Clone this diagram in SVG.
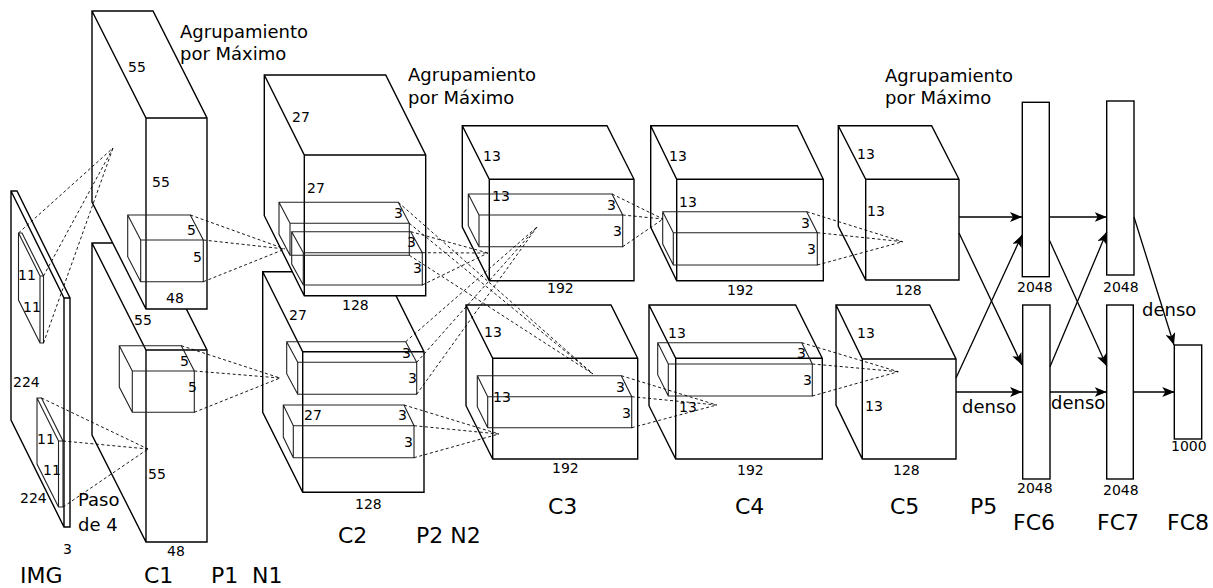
<svg xmlns="http://www.w3.org/2000/svg" width="1213" height="588" viewBox="0 0 1213 588">
<defs>
<style>
.bx{fill:#fff;stroke:#000;stroke-width:1.4;stroke-linejoin:miter}
.ib{fill:none;stroke:#222;stroke-width:1.1}
.ibw{fill:#fff;stroke:#222;stroke-width:1.1}
.dl{fill:none;stroke:#000;stroke-width:0.9;stroke-dasharray:3,2.5}
.ar{fill:none;stroke:#000;stroke-width:1.3;marker-end:url(#ah)}
.fc{fill:#fff;stroke:#000;stroke-width:1.4}
text{font-family:"DejaVu Sans","Liberation Sans",sans-serif;fill:#000}
.n{font-size:14px}
.m{font-size:18px}
.b{font-size:22px}
</style>
<marker id="ah" markerUnits="userSpaceOnUse" markerWidth="12" markerHeight="10" viewBox="0 0 12 10" refX="12" refY="5" orient="auto">
<path d="M0,0 L12,5 L0,10 L3,5 Z" fill="#000"/>
</marker>
</defs>
<rect width="1213" height="588" fill="#fff"/>

<g id="img">
<path class="bx" d="M11,191 L17,191 L70,298 L70,527 L64,527 L11,420 Z M11,191 L64,298 L70,298 M64,298 L64,527"/>
<path class="ibw" d="M18.5,233 L22,233 L43.5,276 L43.5,343 L40,343 L18.5,300 Z M18.5,233 L40,276 L43.5,276 M40,276 L40,343"/>
<path class="ibw" d="M37,398 L41.5,398 L63,441 L63,507 L58.5,507 L37,464 Z M37,398 L58.5,441 L63,441 M58.5,441 L58.5,507"/>
<text class="n" x="18" y="280">11</text>
<text class="n" x="23" y="312">11</text>
<text class="n" x="37" y="444">11</text>
<text class="n" x="43" y="475">11</text>
<text class="n" x="13" y="387">224</text>
<text class="n" x="20" y="503">224</text>
<text class="n" x="63" y="554">3</text>
<text class="m" x="78" y="506">Paso</text>
<text class="m" x="78" y="531">de 4</text>
<text class="b" x="20" y="583">IMG</text>
</g>

<g id="c1">
<path class="bx" d="M92,243 L153,243 L207,350 L207,542 L146,542 L92,435 Z M92,243 L146,350 L207,350 M146,350 L146,542"/>
<path class="bx" d="M92,11 L153,11 L207,118 L207,309 L146,309 L92,202 Z M92,11 L146,118 L207,118 M146,118 L146,309"/>
<path class="ib" d="M127.7,215 L190.3,215 L203.3,240 L203.3,281.7 L140.7,281.7 L127.7,256.7 Z M127.7,215 L140.7,240 L203.3,240 M140.7,240 L140.7,281.7"/>
<path class="ib" d="M119.3,345.7 L181.3,345.7 L194.3,371 L194.3,412.3 L132.3,412.3 L119.3,387 Z M119.3,345.7 L132.3,371 L194.3,371 M132.3,371 L132.3,412.3"/>
<text class="n" x="128" y="72">55</text>
<text class="n" x="152" y="187">55</text>
<text class="n" x="187" y="235">5</text>
<text class="n" x="193" y="262">5</text>
<text class="n" x="166" y="303">48</text>
<text class="n" x="134" y="325">55</text>
<text class="n" x="180" y="366">5</text>
<text class="n" x="188" y="392">5</text>
<text class="n" x="148" y="479">55</text>
<text class="n" x="167" y="556">48</text>
<text class="m" x="180" y="38">Agrupamiento</text>
<text class="m" x="180" y="60">por Máximo</text>
<text class="b" x="144" y="583">C1</text>
<text class="b" x="211" y="583">P1</text>
<text class="b" x="252" y="583">N1</text>
</g>

<g id="c2">
<path class="bx" d="M262.7,271.7 L384,271.7 L424,351.7 L424,492.3 L302.7,492.3 L262.7,412.3 Z M262.7,271.7 L302.7,351.7 L424,351.7 M302.7,351.7 L302.7,492.3"/>
<path class="ib" d="M286.7,341.7 L405.7,341.7 L416.7,362.3 L416.7,394.3 L297.7,394.3 L286.7,373.7 Z M286.7,341.7 L297.7,362.3 L416.7,362.3 M297.7,362.3 L297.7,394.3"/>
<path class="ib" d="M283.3,405 L404,405 L414,425.7 L414,457.7 L293.3,457.7 L283.3,437 Z M283.3,405 L293.3,425.7 L414,425.7 M293.3,425.7 L293.3,457.7"/>
<path class="bx" d="M264.3,75 L385.7,75 L425.7,155 L425.7,295.7 L304.3,295.7 L264.3,215.7 Z M264.3,75 L304.3,155 L425.7,155 M304.3,155 L304.3,295.7"/>
<path class="ib" d="M279,202.3 L398.3,202.3 L409.3,223.3 L409.3,255.3 L290,255.3 L279,234.3 Z M279,202.3 L290,223.3 L409.3,223.3 M290,223.3 L290,255.3"/>
<path class="ib" d="M291.7,231.7 L410.7,231.7 L422.3,252.7 L422.3,285 L303.3,285 L291.7,264 Z M291.7,231.7 L303.3,252.7 L422.3,252.7 M303.3,252.7 L303.3,285"/>
<text class="n" x="292" y="122">27</text>
<text class="n" x="307" y="193">27</text>
<text class="n" x="394" y="218">3</text>
<text class="n" x="407" y="247">3</text>
<text class="n" x="413" y="273">3</text>
<text class="n" x="342" y="310">128</text>
<text class="n" x="289" y="320">27</text>
<text class="n" x="402" y="358">3</text>
<text class="n" x="408" y="383">3</text>
<text class="n" x="304" y="420">27</text>
<text class="n" x="398" y="420">3</text>
<text class="n" x="404" y="447">3</text>
<text class="n" x="355" y="509">128</text>
<text class="m" x="408" y="81">Agrupamiento</text>
<text class="m" x="408" y="104">por Máximo</text>
<text class="b" x="338" y="543">C2</text>
<text class="b" x="416" y="543">P2 N2</text>
</g>

<g id="c3">
<path class="bx" d="M462.3,125.7 L607,125.7 L634,179.3 L634,280.7 L489.3,280.7 L462.3,227.1 Z M462.3,125.7 L489.3,179.3 L634,179.3 M489.3,179.3 L489.3,280.7"/>
<path class="ib" d="M468.3,194 L612,194 L622.7,215 L622.7,246.7 L479,246.7 L468.3,225.7 Z M468.3,194 L479,215 L622.7,215 M479,215 L479,246.7"/>
<path class="bx" d="M466,305 L611,305 L637.7,358.3 L637.7,459 L492.7,459 L466,405.7 Z M466,305 L492.7,358.3 L637.7,358.3 M492.7,358.3 L492.7,459"/>
<path class="ib" d="M477.3,375.7 L621.3,375.7 L631.7,396.7 L631.7,427.7 L487.7,427.7 L477.3,406.7 Z M477.3,375.7 L487.7,396.7 L631.7,396.7 M487.7,396.7 L487.7,427.7"/>
<text class="n" x="483" y="161">13</text>
<text class="n" x="492" y="201">13</text>
<text class="n" x="607" y="210">3</text>
<text class="n" x="613" y="236">3</text>
<text class="n" x="547" y="293">192</text>
<text class="n" x="484" y="337">13</text>
<text class="n" x="493" y="402">13</text>
<text class="n" x="616" y="392">3</text>
<text class="n" x="622" y="418">3</text>
<text class="n" x="552" y="473">192</text>
<text class="b" x="548" y="514">C3</text>
</g>

<g id="c4">
<path class="bx" d="M650.7,125.7 L797.3,125.7 L823.3,179.3 L823.3,280.7 L676.7,280.7 L650.7,227.1 Z M650.7,125.7 L676.7,179.3 L823.3,179.3 M676.7,179.3 L676.7,280.7"/>
<path class="ib" d="M662.7,211.7 L806.7,211.7 L817.3,232.7 L817.3,265 L673.3,265 L662.7,244 Z M662.7,211.7 L673.3,232.7 L817.3,232.7 M673.3,232.7 L673.3,265"/>
<path class="bx" d="M649,305 L795.6,305 L822.3,358.3 L822.3,459 L675.7,459 L649,405.7 Z M649,305 L675.7,358.3 L822.3,358.3 M675.7,358.3 L675.7,459"/>
<path class="ib" d="M657.7,342.7 L801.7,342.7 L812.3,364 L812.3,396 L668.3,396 L657.7,374.7 Z M657.7,342.7 L668.3,364 L812.3,364 M668.3,364 L668.3,396"/>
<text class="n" x="669" y="161">13</text>
<text class="n" x="679" y="207">13</text>
<text class="n" x="801" y="228">3</text>
<text class="n" x="807" y="254">3</text>
<text class="n" x="727" y="295">192</text>
<text class="n" x="668" y="338">13</text>
<text class="n" x="797" y="358">3</text>
<text class="n" x="803" y="385">3</text>
<text class="n" x="679" y="412">13</text>
<text class="n" x="737" y="475">192</text>
<text class="b" x="735" y="514">C4</text>
</g>

<g id="c5">
<path class="bx" d="M838.3,125.7 L931.6,125.7 L959,179.3 L959,280 L865.7,280 L838.3,226.4 Z M838.3,125.7 L865.7,179.3 L959,179.3 M865.7,179.3 L865.7,280"/>
<path class="bx" d="M836,305 L929.7,305 L956,359 L956,459 L862.3,459 L836,405 Z M836,305 L862.3,359 L956,359 M862.3,359 L862.3,459"/>
<text class="n" x="857" y="159">13</text>
<text class="n" x="867" y="216">13</text>
<text class="n" x="895" y="295">128</text>
<text class="n" x="857" y="338">13</text>
<text class="n" x="865" y="411">13</text>
<text class="n" x="893" y="475">128</text>
<text class="m" x="885" y="82">Agrupamiento</text>
<text class="m" x="885" y="104">por Máximo</text>
<text class="b" x="890" y="514">C5</text>
<text class="b" x="970" y="514">P5</text>
</g>

<g id="fc6">
<rect class="fc" x="1022.3" y="102.3" width="27" height="174.4"/>
<rect class="fc" x="1022.7" y="305" width="27.3" height="174"/>
<text class="n" x="1017" y="292">2048</text>
<text class="n" x="1017" y="493">2048</text>
<text class="b" x="1013" y="530">FC6</text>
</g>
<g id="fc7">
<rect class="fc" x="1106.7" y="101" width="27.3" height="174"/>
<rect class="fc" x="1106.7" y="305" width="26.6" height="174"/>
<text class="n" x="1103" y="292">2048</text>
<text class="n" x="1103" y="495">2048</text>
<text class="b" x="1097" y="530">FC7</text>
</g>
<g id="fc8">
<rect class="fc" x="1174.3" y="345" width="27.4" height="94"/>
<text class="n" x="1171" y="451">1000</text>
<text class="b" x="1167" y="530">FC8</text>
</g>

<g id="connectors">
<path class="dl" d="M18.5,233 L113,148 M43.5,276 L113,148 M43.5,343 L113,148"/>
<path class="dl" d="M41.5,398 L148,449 M63,441 L148,449 M63,507 L148,449"/>
<path class="dl" d="M190.3,215 L285,249 M203.3,240 L285,249 M203.3,281.7 L285,249"/>
<path class="dl" d="M181.3,345.7 L280,378 M194.3,371 L280,378 M194.3,412.3 L280,378"/>
<path class="dl" d="M410.7,231.7 L488,253 M422.3,252.7 L488,253 M422.3,285 L488,253"/>
<path class="dl" d="M398.3,202.3 L593,374 M409.3,223.3 L593,374 M409.3,255.3 L593,374"/>
<path class="dl" d="M405.7,341.7 L537,227 M416.7,362.3 L537,227 M416.7,394.3 L537,227"/>
<path class="dl" d="M404,405 L499,434 M414,425.7 L499,434 M414,457.7 L499,434"/>
<path class="dl" d="M612,194 L663,219 M622.7,215 L663,219 M622.7,246.7 L663,219"/>
<path class="dl" d="M621.3,375.7 L716.7,405 M631.7,396.7 L716.7,405 M631.7,427.7 L716.7,405"/>
<path class="dl" d="M806.7,211.7 L902.7,241.7 M817.3,232.7 L902.7,241.7 M817.3,265 L902.7,241.7"/>
<path class="dl" d="M801.7,342.7 L898.3,371.7 M812.3,364 L898.3,371.7 M812.3,396 L898.3,371.7"/>
<path class="ar" d="M959,217 L1022,217"/>
<path class="ar" d="M959,233 L1022,365"/>
<path class="ar" d="M956,378 L1022,235"/>
<path class="ar" d="M956,392 L1022,392"/>
<path class="ar" d="M1049.3,217 L1106.7,217"/>
<path class="ar" d="M1049.3,240 L1106.7,366"/>
<path class="ar" d="M1050,366.7 L1106.7,232"/>
<path class="ar" d="M1050,392 L1106.7,392"/>
<path class="ar" d="M1134,217 L1174,345"/>
<path class="ar" d="M1133.3,392 L1174.3,392"/>
<text class="m" x="962" y="413">denso</text>
<text class="m" x="1051" y="409">denso</text>
<text class="m" x="1142" y="316">denso</text>
</g>
</svg>
